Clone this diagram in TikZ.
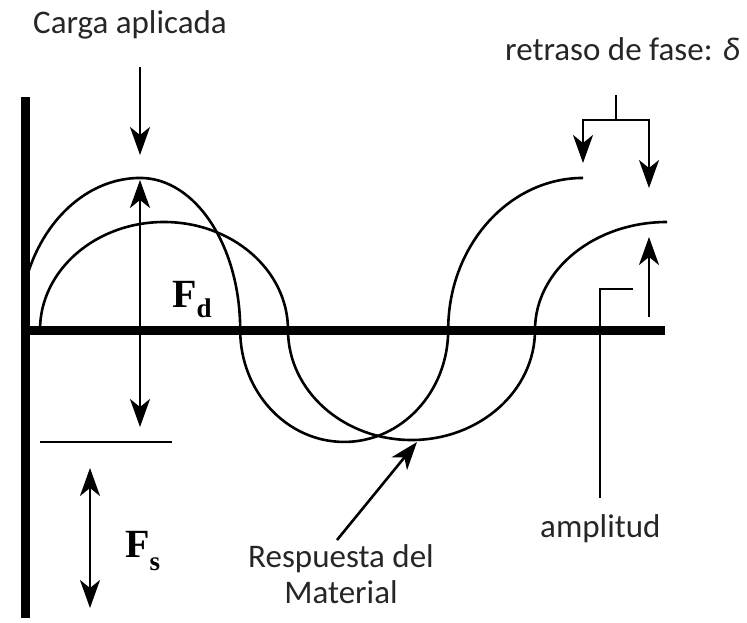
\documentclass[tikz,border=0pt]{standalone}
\usepackage{fontspec}
\setmainfont{Carlito}
\newfontfamily\forcefont{Liberation Serif}
\usepackage{tikz}
\usetikzlibrary{arrows.meta,positioning}
\tikzset{
  dmaaxis/.style={line width=9pt, line cap=butt},
  dmacurve/.style={line width=2.6pt},
  dmaline/.style={-{Stealth[length=28pt,width=20pt,inset=8pt]}, line width=2.6pt},
  dmatwo/.style={{Stealth[length=28pt,width=20pt,inset=8pt]}-{Stealth[length=28pt,width=20pt,inset=8pt]}, line width=2.6pt},
  dmalabel/.style={font=\fontsize{33}{36}\selectfont, text=black!85, inner sep=0pt, align=center},
  dmaforce/.style={font=\forcefont\fontsize{40}{40}\selectfont\bfseries, inner sep=0pt}
}

\begin{document}
\begin{tikzpicture}[x=1pt,y=1pt]
  \useasboundingbox (-25,-292) rectangle (722,330);

  % axes
  \draw[dmaaxis] (0,233) -- (0,-288);
  \draw[dmaaxis] (-4.5,0) -- (640,0);

  % applied load and material response
  \draw[dmacurve] (3,57) arc[start angle=158, end angle=90, x radius=121, y radius=152]
    arc[start angle=90, end angle=0, x radius=100, y radius=152]
    arc[start angle=180, end angle=360, x radius=104, y radius=112]
    arc[start angle=180, end angle=90, x radius=135, y radius=152];
  \draw[dmacurve] (15,0) arc[start angle=180, end angle=0, x radius=124, y radius=108]
    arc[start angle=180, end angle=360, x radius=123.5, y radius=110]
    arc[start angle=180, end angle=90, x radius=132, y radius=108];

  \node[dmalabel, anchor=base west] (carga) at (8,297) {Carga aplicada};
  \node[dmalabel, anchor=base west] (retraso) at (480,270) {retraso de fase: \textit{δ}};
  \node[dmalabel, anchor=base west] (ampl) at (515,-207) {amplitud};
  \node[dmalabel, anchor=base] (resp) at (316,-273) {Respuesta del\\Material};
  \node[dmaforce, anchor=base west] (fd) at (147,23) {F\raisebox{-10pt}{\fontsize{27}{27}\selectfont d}};
  \node[dmaforce, anchor=base west] (fs) at (100,-227) {F\raisebox{-13pt}{\fontsize{27}{27}\selectfont s}};

  \coordinate (cargastart) at (115,263);
  \coordinate (cargaend) at (115,175);
  \coordinate (fdtop) at (115,150);
  \coordinate (fdbot) at (115,-97);
  \coordinate (fsleft) at (15,-112);
  \coordinate (fsright) at (147,-112);
  \coordinate (fstop) at (65,-138);
  \coordinate (fsbot) at (65,-278);
  \coordinate (lagtop) at (591,235);
  \coordinate (lagmid) at (591,210);
  \coordinate (lagleft) at (558,167);
  \coordinate (lagright) at (624,142);
  \coordinate (amptail) at (624,13);
  \coordinate (amptip) at (624,93);
  \coordinate (leadtop) at (608,41);
  \coordinate (leadbot) at (575,-168);
  \coordinate (resptail) at (312,-210);
  \coordinate (resptip) at (392,-112);

  \draw[dmaline] (cargastart) -- (cargaend);
  \draw[dmatwo] (fdbot) -- (fdtop);
  \draw[dmacurve] (fsleft) -- (fsright);
  \draw[dmatwo] (fstop) -- (fsbot);
  \draw[dmacurve] (lagtop) -- (lagmid);
  \draw[dmaline] (lagmid) -| (lagleft);
  \draw[dmaline] (lagmid) -| (lagright);
  \draw[dmaline] (amptail) -- (amptip);
  \draw[dmacurve] (leadtop) -| (leadbot);
  \draw[dmaline] (resptail) -- (resptip);
\end{tikzpicture}
\end{document}
